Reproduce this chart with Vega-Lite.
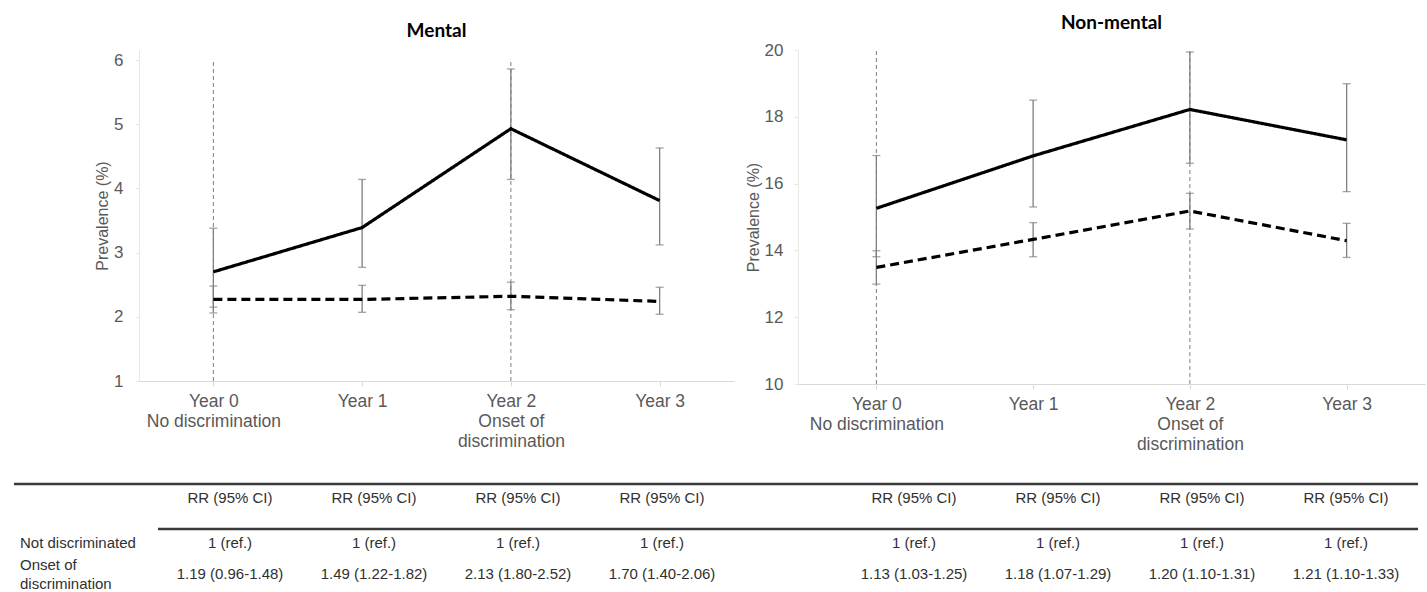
{
  "$schema": "https://vega.github.io/schema/vega-lite/v6.json",
  "autosize": {"type": "none"},
  "padding": {"left": 139, "top": 50, "right": 1288, "bottom": 542},
  "background": "white",
  "bounds": "flush",
  "spacing": 434,
  "config": {
    "view": {"stroke": null},
    "font": "Liberation Sans",
    "axis": {"labelFont": "Liberation Sans", "titleFont": "Liberation Sans", "labelColor": "#595959", "titleColor": "#595959", "grid": false, "domainColor": "#d9d9d9", "tickColor": "#d9d9d9"},
    "title": {"font": "Lato", "fontWeight": "bold", "fontSize": 19, "color": "#000000", "anchor": "middle"}
  },
  "datasets": {
    "prev": [
      {"panel": "Mental", "year": "Year 0", "group": "Onset of discrimination", "value": 2.70, "lo": 2.15, "hi": 3.38},
      {"panel": "Mental", "year": "Year 1", "group": "Onset of discrimination", "value": 3.39, "lo": 2.77, "hi": 4.14},
      {"panel": "Mental", "year": "Year 2", "group": "Onset of discrimination", "value": 4.93, "lo": 4.14, "hi": 5.86},
      {"panel": "Mental", "year": "Year 3", "group": "Onset of discrimination", "value": 3.81, "lo": 3.12, "hi": 4.63},
      {"panel": "Mental", "year": "Year 0", "group": "Not discriminated", "value": 2.27, "lo": 2.06, "hi": 2.48},
      {"panel": "Mental", "year": "Year 1", "group": "Not discriminated", "value": 2.27, "lo": 2.07, "hi": 2.49},
      {"panel": "Mental", "year": "Year 2", "group": "Not discriminated", "value": 2.32, "lo": 2.11, "hi": 2.54},
      {"panel": "Mental", "year": "Year 3", "group": "Not discriminated", "value": 2.24, "lo": 2.04, "hi": 2.46},
      {"panel": "Non-mental", "year": "Year 0", "group": "Onset of discrimination", "value": 15.26, "lo": 13.81, "hi": 16.84},
      {"panel": "Non-mental", "year": "Year 1", "group": "Onset of discrimination", "value": 16.83, "lo": 15.30, "hi": 18.50},
      {"panel": "Non-mental", "year": "Year 2", "group": "Onset of discrimination", "value": 18.22, "lo": 16.61, "hi": 19.94},
      {"panel": "Non-mental", "year": "Year 3", "group": "Onset of discrimination", "value": 17.31, "lo": 15.76, "hi": 18.99},
      {"panel": "Non-mental", "year": "Year 0", "group": "Not discriminated", "value": 13.49, "lo": 12.99, "hi": 13.99},
      {"panel": "Non-mental", "year": "Year 1", "group": "Not discriminated", "value": 14.33, "lo": 13.81, "hi": 14.83},
      {"panel": "Non-mental", "year": "Year 2", "group": "Not discriminated", "value": 15.18, "lo": 14.64, "hi": 15.71},
      {"panel": "Non-mental", "year": "Year 3", "group": "Not discriminated", "value": 14.29, "lo": 13.79, "hi": 14.81}
    ],
    "markers": [{"year": "Year 0"}, {"year": "Year 2"}],
    "cells": [
      {"col": "M0", "row": "hdr", "text": "RR (95% CI)"},
      {"col": "M1", "row": "hdr", "text": "RR (95% CI)"},
      {"col": "M2", "row": "hdr", "text": "RR (95% CI)"},
      {"col": "M3", "row": "hdr", "text": "RR (95% CI)"},
      {"col": "N0", "row": "hdr", "text": "RR (95% CI)"},
      {"col": "N1", "row": "hdr", "text": "RR (95% CI)"},
      {"col": "N2", "row": "hdr", "text": "RR (95% CI)"},
      {"col": "N3", "row": "hdr", "text": "RR (95% CI)"},
      {"col": "M0", "row": "r1", "text": "1 (ref.)"},
      {"col": "M1", "row": "r1", "text": "1 (ref.)"},
      {"col": "M2", "row": "r1", "text": "1 (ref.)"},
      {"col": "M3", "row": "r1", "text": "1 (ref.)"},
      {"col": "N0", "row": "r1", "text": "1 (ref.)"},
      {"col": "N1", "row": "r1", "text": "1 (ref.)"},
      {"col": "N2", "row": "r1", "text": "1 (ref.)"},
      {"col": "N3", "row": "r1", "text": "1 (ref.)"},
      {"col": "M0", "row": "r2", "text": "1.19 (0.96-1.48)"},
      {"col": "M1", "row": "r2", "text": "1.49 (1.22-1.82)"},
      {"col": "M2", "row": "r2", "text": "2.13 (1.80-2.52)"},
      {"col": "M3", "row": "r2", "text": "1.70 (1.40-2.06)"},
      {"col": "N0", "row": "r2", "text": "1.13 (1.03-1.25)"},
      {"col": "N1", "row": "r2", "text": "1.18 (1.07-1.29)"},
      {"col": "N2", "row": "r2", "text": "1.20 (1.10-1.31)"},
      {"col": "N3", "row": "r2", "text": "1.21 (1.10-1.33)"}
    ],
    "rowLabels": [
      {"col": "edge", "row": "r1", "text": "Not discriminated"},
      {"col": "edge", "row": "r2", "text": "Onset of\ndiscrimination"}
    ],
    "tableRules": [
      {"from": "edge", "to": "end", "row": "top"},
      {"from": "rule2", "to": "end", "row": "rule2"}
    ]
  },
  "vconcat": [
    {
      "bounds": "flush",
      "spacing": 64,
      "hconcat": [
        {
          "width": 595,
          "height": 331,
          "title": {"text": "Mental", "offset": 9},
          "encoding": {
            "x": {"field": "year", "type": "nominal", "scale": {"type": "point", "padding": 0.5, "domain": ["Year 0", "Year 1", "Year 2", "Year 3"]},
              "axis": {"title": null, "labelAngle": 0, "labelFontSize": 17.5, "labelLineHeight": 20, "tickSize": 5, "labelPadding": 6, "labelOverlap": false,
                "labelExpr": "datum.value == 'Year 0' ? ['Year 0', 'No discrimination'] : datum.value == 'Year 2' ? ['Year 2', 'Onset of', 'discrimination'] : datum.value"}}
          },
          "layer": [
            {
              "data": {"name": "markers"},
              "mark": {"type": "rule", "color": "#7f7f7f", "strokeWidth": 1, "strokeDash": [4, 3]},
              "encoding": {
                "y": {"datum": 1, "type": "quantitative", "scale": {"domain": [1, 6.156], "nice": false, "zero": false},
                  "axis": {"title": "Prevalence (%)", "values": [1, 2, 3, 4, 5, 6], "labelFontSize": 17, "titleFontSize": 16, "titleFontWeight": "normal", "titlePadding": 3, "tickSize": 4, "labelPadding": 12, "domainColor": "#e8e8e0", "tickColor": "#e8e8e0"}},
                "y2": {"datum": 6}
              }
            },
            {
              "data": {"name": "prev"},
              "transform": [{"filter": "datum.panel == 'Mental'"}],
              "mark": {"type": "errorbar", "ticks": true, "size": 8, "thickness": 1.3, "color": "#7f7f7f"},
              "encoding": {
                "y": {"field": "lo", "type": "quantitative", "scale": {"domain": [1, 6.156], "nice": false, "zero": false},
                  "axis": {"title": "Prevalence (%)", "values": [1, 2, 3, 4, 5, 6], "labelFontSize": 17, "titleFontSize": 16, "titleFontWeight": "normal", "titlePadding": 3, "tickSize": 4, "labelPadding": 12, "domainColor": "#e8e8e0", "tickColor": "#e8e8e0"}},
                "y2": {"field": "hi"}
              }
            },
            {
              "data": {"name": "prev"},
              "transform": [{"filter": "datum.panel == 'Mental'"}],
              "mark": {"type": "line", "color": "#000000", "strokeWidth": 3.2},
              "encoding": {
                "y": {"field": "value", "type": "quantitative", "scale": {"domain": [1, 6.156], "nice": false, "zero": false},
                  "axis": {"title": "Prevalence (%)", "values": [1, 2, 3, 4, 5, 6], "labelFontSize": 17, "titleFontSize": 16, "titleFontWeight": "normal", "titlePadding": 3, "tickSize": 4, "labelPadding": 12, "domainColor": "#e8e8e0", "tickColor": "#e8e8e0"}},
                "strokeDash": {"field": "group", "type": "nominal", "scale": {"domain": ["Onset of discrimination", "Not discriminated"], "range": [[1, 0], [9, 5]]}, "legend": null}
              }
            }
          ]
        },
        {
          "width": 627,
          "height": 334,
          "title": {"text": "Non-mental", "offset": 8},
          "encoding": {
            "x": {"field": "year", "type": "nominal", "scale": {"type": "point", "padding": 0.5, "domain": ["Year 0", "Year 1", "Year 2", "Year 3"]},
              "axis": {"title": null, "labelAngle": 0, "labelFontSize": 17.5, "labelLineHeight": 20, "tickSize": 5, "labelPadding": 6, "labelOverlap": false,
                "labelExpr": "datum.value == 'Year 0' ? ['Year 0', 'No discrimination'] : datum.value == 'Year 2' ? ['Year 2', 'Onset of', 'discrimination'] : datum.value"}}
          },
          "layer": [
            {
              "data": {"name": "markers"},
              "mark": {"type": "rule", "color": "#7f7f7f", "strokeWidth": 1, "strokeDash": [4, 3]},
              "encoding": {
                "y": {"datum": 10, "type": "quantitative", "scale": {"domain": [10, 20], "nice": false, "zero": false},
                  "axis": {"title": "Prevalence (%)", "values": [10, 12, 14, 16, 18, 20], "labelFontSize": 17, "titleFontSize": 16, "titleFontWeight": "normal", "titlePadding": 3, "tickSize": 4, "labelPadding": 11, "domainColor": "#e8e8e0", "tickColor": "#e8e8e0"}},
                "y2": {"datum": 20}
              }
            },
            {
              "data": {"name": "prev"},
              "transform": [{"filter": "datum.panel == 'Non-mental'"}],
              "mark": {"type": "errorbar", "ticks": true, "size": 8, "thickness": 1.3, "color": "#7f7f7f"},
              "encoding": {
                "y": {"field": "lo", "type": "quantitative", "scale": {"domain": [10, 20], "nice": false, "zero": false},
                  "axis": {"title": "Prevalence (%)", "values": [10, 12, 14, 16, 18, 20], "labelFontSize": 17, "titleFontSize": 16, "titleFontWeight": "normal", "titlePadding": 3, "tickSize": 4, "labelPadding": 11, "domainColor": "#e8e8e0", "tickColor": "#e8e8e0"}},
                "y2": {"field": "hi"}
              }
            },
            {
              "data": {"name": "prev"},
              "transform": [{"filter": "datum.panel == 'Non-mental'"}],
              "mark": {"type": "line", "color": "#000000", "strokeWidth": 3.2},
              "encoding": {
                "y": {"field": "value", "type": "quantitative", "scale": {"domain": [10, 20], "nice": false, "zero": false},
                  "axis": {"title": "Prevalence (%)", "values": [10, 12, 14, 16, 18, 20], "labelFontSize": 17, "titleFontSize": 16, "titleFontWeight": "normal", "titlePadding": 3, "tickSize": 4, "labelPadding": 11, "domainColor": "#e8e8e0", "tickColor": "#e8e8e0"}},
                "strokeDash": {"field": "group", "type": "nominal", "scale": {"domain": ["Onset of discrimination", "Not discriminated"], "range": [[1, 0], [9, 5]]}, "legend": null}
              }
            }
          ]
        }
      ]
    },
    {
      "width": 1288,
      "height": 108,
      "layer": [
        {
          "data": {"name": "tableRules"},
          "mark": {"type": "rule", "color": "#3a3a3a", "strokeWidth": 2.5},
          "encoding": {
            "x": {"field": "from", "type": "nominal", "axis": null, "scale": {"type": "point", "padding": 0, "range": [-125, 1279], "domain": ["edge","p1","p2","p3","rule2","p4","M0","p5","p6","p7","M1","p8","p9","p10","M2","p11","p12","p13","M3","p14","p15","p16","p17","p18","p19","N0","p20","p21","p22","N1","p23","p24","p25","N2","p26","p27","p28","N3","p29","end"]}},
            "x2": {"field": "to"},
            "y": {"field": "row", "type": "nominal", "axis": null, "scale": {"type": "point", "padding": 0, "range": [0, 90], "domain": ["top","y1","y2","hdr","y4","y5","y6","y7","y8","y9","rule2","y11","y12","r1","y14","y15","y16","y17","y18","y19","r2"]}}
          }
        },
        {
          "data": {"name": "cells"},
          "mark": {"type": "text", "align": "center", "baseline": "middle", "fontSize": 15, "font": "Liberation Sans", "color": "#303030"},
          "encoding": {
            "x": {"field": "col", "type": "nominal", "axis": null, "scale": {"type": "point", "padding": 0, "range": [-125, 1279], "domain": ["edge","p1","p2","p3","rule2","p4","M0","p5","p6","p7","M1","p8","p9","p10","M2","p11","p12","p13","M3","p14","p15","p16","p17","p18","p19","N0","p20","p21","p22","N1","p23","p24","p25","N2","p26","p27","p28","N3","p29","end"]}},
            "y": {"field": "row", "type": "nominal", "axis": null, "scale": {"type": "point", "padding": 0, "range": [0, 90], "domain": ["top","y1","y2","hdr","y4","y5","y6","y7","y8","y9","rule2","y11","y12","r1","y14","y15","y16","y17","y18","y19","r2"]}},
            "text": {"field": "text"}
          }
        },
        {
          "data": {"name": "rowLabels"},
          "mark": {"type": "text", "align": "left", "baseline": "middle", "dx": 6, "dy": -9, "fontSize": 15, "lineHeight": 19, "lineBreak": "\n", "font": "Liberation Sans", "color": "#303030"},
          "transform": [{"filter": "datum.row == 'r2'"}],
          "encoding": {
            "x": {"field": "col", "type": "nominal", "axis": null, "scale": {"type": "point", "padding": 0, "range": [-125, 1279], "domain": ["edge","p1","p2","p3","rule2","p4","M0","p5","p6","p7","M1","p8","p9","p10","M2","p11","p12","p13","M3","p14","p15","p16","p17","p18","p19","N0","p20","p21","p22","N1","p23","p24","p25","N2","p26","p27","p28","N3","p29","end"]}},
            "y": {"field": "row", "type": "nominal", "axis": null, "scale": {"type": "point", "padding": 0, "range": [0, 90], "domain": ["top","y1","y2","hdr","y4","y5","y6","y7","y8","y9","rule2","y11","y12","r1","y14","y15","y16","y17","y18","y19","r2"]}},
            "text": {"field": "text"}
          }
        },
        {
          "data": {"name": "rowLabels"},
          "mark": {"type": "text", "align": "left", "baseline": "middle", "dx": 6, "fontSize": 15, "font": "Liberation Sans", "color": "#303030"},
          "transform": [{"filter": "datum.row == 'r1'"}],
          "encoding": {
            "x": {"field": "col", "type": "nominal", "axis": null, "scale": {"type": "point", "padding": 0, "range": [-125, 1279], "domain": ["edge","p1","p2","p3","rule2","p4","M0","p5","p6","p7","M1","p8","p9","p10","M2","p11","p12","p13","M3","p14","p15","p16","p17","p18","p19","N0","p20","p21","p22","N1","p23","p24","p25","N2","p26","p27","p28","N3","p29","end"]}},
            "y": {"field": "row", "type": "nominal", "axis": null, "scale": {"type": "point", "padding": 0, "range": [0, 90], "domain": ["top","y1","y2","hdr","y4","y5","y6","y7","y8","y9","rule2","y11","y12","r1","y14","y15","y16","y17","y18","y19","r2"]}},
            "text": {"field": "text"}
          }
        }
      ]
    }
  ]
}
